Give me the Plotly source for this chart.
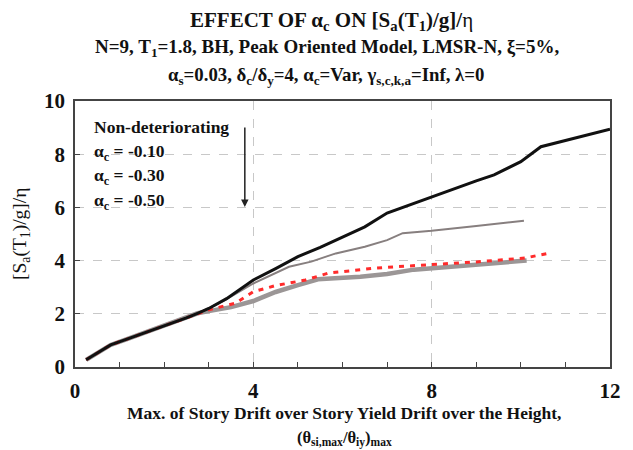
import plotly.graph_objects as go

# ---- data ----
x_nd = [0.25, 0.8, 1.15, 1.6, 2.0, 2.5, 2.75, 3.0, 3.4, 4.0, 4.5, 5.0, 5.5, 6.0, 6.5, 7.0, 7.5, 8.0, 8.5, 9.0, 9.4, 10.0, 10.45, 11.2, 12.0]
y_nd = [0.27, 0.83, 1.04, 1.3, 1.55, 1.85, 2.02, 2.2, 2.57, 3.27, 3.7, 4.15, 4.5, 4.88, 5.27, 5.79, 6.1, 6.4, 6.7, 7.0, 7.22, 7.72, 8.28, 8.6, 8.94]

x_a10 = [0.25, 0.8, 1.15, 2.0, 2.75, 3.0, 3.4, 4.0, 4.5, 4.8, 5.3, 5.85, 6.5, 7.0, 7.35, 8.0, 9.0, 10.07]
y_a10 = [0.27, 0.83, 1.04, 1.55, 2.02, 2.2, 2.55, 3.14, 3.52, 3.77, 3.96, 4.27, 4.52, 4.77, 5.03, 5.12, 5.3, 5.5]

x_a30 = [0.25, 0.8, 1.15, 2.0, 2.75, 3.0, 3.6, 4.0, 4.5, 5.17, 5.68, 6.7, 7.5, 8.0, 9.0, 10.1, 10.6]
y_a30 = [0.27, 0.83, 1.04, 1.55, 2.02, 2.15, 2.4, 2.83, 3.06, 3.27, 3.53, 3.71, 3.8, 3.85, 3.95, 4.1, 4.27]

x_a50 = [0.25, 0.8, 1.15, 2.0, 2.75, 3.0, 3.5, 4.0, 4.5, 5.0, 5.45, 6.4, 7.0, 7.6, 8.0, 9.0, 10.13]
y_a50 = [0.27, 0.83, 1.04, 1.55, 2.02, 2.1, 2.25, 2.48, 2.82, 3.08, 3.3, 3.39, 3.5, 3.66, 3.72, 3.85, 4.0]

legend_labels = ["Non-deteriorating", "α<sub>c</sub> = -0.10", "α<sub>c</sub> = -0.30", "α<sub>c</sub> = -0.50"]
x_ticks = [0, 4, 8, 12]
y_ticks = [0, 2, 4, 6, 8, 10]

FONT = "'Liberation Serif', 'Times New Roman', serif"

# plot area in pixels (for placing text)
PL, PR, PT, PB = 75, 620, 101, 367


def px(xp):
    return (xp - PL) / (PR - PL)


def py(yp):
    return (PB - yp) / (PB - PT)


fig = go.Figure()
fig.add_trace(go.Scatter(x=x_a50, y=y_a50, mode="lines", line=dict(color="#9b9696", width=4.5), name=legend_labels[3]))
fig.add_trace(go.Scatter(x=x_a30, y=y_a30, mode="lines", line=dict(color="#ff2b2b", width=3, dash="5px,6px"), name=legend_labels[2]))
fig.add_trace(go.Scatter(x=x_a10, y=y_a10, mode="lines", line=dict(color="#877f7f", width=2), name=legend_labels[1]))
fig.add_trace(go.Scatter(x=x_nd, y=y_nd, mode="lines", line=dict(color="#111111", width=3), name=legend_labels[0]))

axis_common = dict(
    showline=True, linecolor="#444444", linewidth=1.5, mirror=True,
    showgrid=True, gridcolor="#c8c8c8", griddash="dash", gridwidth=1,
    zeroline=False, ticks="inside", ticklen=5, tickcolor="#444444",
    tickfont=dict(family=FONT, size=21, color="#111111", weight="bold"),
)

fig.update_xaxes(range=[0, 12], tickvals=x_ticks, ticktext=[str(v) for v in x_ticks],
                 minor=dict(dtick=1, ticks="inside", ticklen=5, tickcolor="#444444", showgrid=False),
                 ticklabelstandoff=4, **axis_common)
fig.update_yaxes(range=[0, 10], tickvals=y_ticks, ticktext=[str(v) for v in y_ticks],
                 ticklabelstandoff=4, **axis_common)

out = []
titles = [
    ("<b>EFFECT OF α<sub>c</sub> ON [S<sub>a</sub>(T<sub>1</sub>)/g]/</b>η", 336, 21, 21),
    ("<b>N=9, T<sub>1</sub>=1.8, BH, Peak Oriented Model, LMSR-N, ξ=5%,</b>", 332, 48, 19),
    ("<b>α<sub>s</sub>=0.03, δ<sub>c</sub>/δ<sub>y</sub>=4, α<sub>c</sub>=Var, γ<sub>s,c,k,a</sub>=Inf, λ=0</b>", 331, 76, 18.8),
]
for t, xx, yy, s in titles:
    out.append(dict(text=t, xref="paper", yref="paper", x=px(xx), y=py(yy),
                    xanchor="center", yanchor="middle", showarrow=False,
                    font=dict(family=FONT, size=s, color="#111111")))

# legend text block
leg_y = [127, 152, 176, 201]
for lbl, yy in zip(legend_labels, leg_y):
    out.append(dict(text="<b>" + lbl + "</b>", xref="paper", yref="paper",
                    x=px(92), y=py(yy), xanchor="left", yanchor="middle",
                    showarrow=False, font=dict(family=FONT, size=17.5, color="#111111")))

# arrow
out.append(dict(x=px(248), y=py(207), ax=px(248), ay=py(126),
                xref="x domain", yref="y domain", axref="x domain", ayref="y domain",
                text="", showarrow=True, arrowhead=2, arrowsize=1, arrowwidth=1.5, arrowcolor="#222222"))

# x axis title (two lines)
out.append(dict(text="<b>Max. of Story Drift over Story Yield Drift over the Height,</b>",
                xref="paper", yref="paper", x=px(349), y=py(413), xanchor="center", yanchor="middle",
                showarrow=False, font=dict(family=FONT, size=17.5, color="#111111")))
out.append(dict(text="<b>(θ<sub>si,max</sub>/θ<sub>iy</sub>)<sub>max</sub></b>",
                xref="paper", yref="paper", x=px(350), y=py(438), xanchor="center", yanchor="middle",
                showarrow=False, font=dict(family=FONT, size=16.5, color="#111111")))
# y axis title
out.append(dict(text="[S<sub>a</sub>(T<sub>1</sub>)/g]/η",
                xref="paper", yref="paper", x=px(20), y=py(234), xanchor="center", yanchor="middle",
                textangle=-90, showarrow=False, font=dict(family=FONT, size=19.5, color="#111111")))

fig.update_layout(
    width=633, height=450,
    margin=dict(l=PL, r=633 - PR, t=PT, b=450 - PB),
    paper_bgcolor="white", plot_bgcolor="white",
    showlegend=False,
    annotations=out,
    font=dict(family=FONT),
)

fig.write_html("out.html")
